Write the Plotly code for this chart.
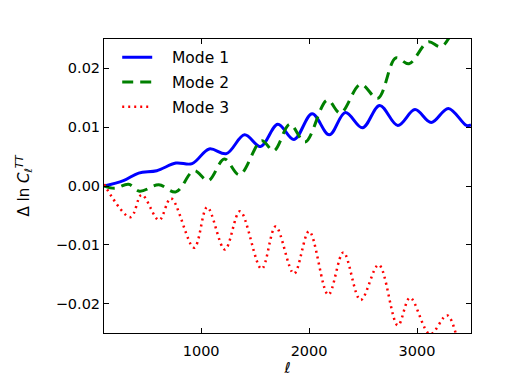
import plotly.graph_objects as go

# values (multipole ell, delta ln C_ell^TT)
mode1_ell = [100, 280, 421, 589, 766, 916, 1075, 1234, 1402, 1551, 1710, 1860, 2028, 2187,
             2336, 2495, 2654, 2822, 2981, 3131, 3290, 3458, 3500]
mode1_val = [0.0, 0.0009, 0.0022, 0.0026, 0.0039, 0.0038, 0.0063, 0.0055, 0.0087, 0.0067,
             0.0105, 0.0079, 0.0123, 0.0087, 0.0125, 0.0099, 0.0137, 0.0103, 0.0130, 0.0108,
             0.0132, 0.0103, 0.0104]

mode2_ell = [100, 200, 327, 430, 607, 766, 935, 1065, 1215, 1355, 1560, 1673, 1822, 1963,
             2168, 2290, 2477, 2636, 2804, 2925, 3103, 3224, 3420, 3500]
mode2_val = [0.0, -0.0004, 0.0003, -0.0009, 0.0002, -0.0010, 0.0026, 0.0009, 0.0046, 0.0019,
             0.0077, 0.0060, 0.0105, 0.0075, 0.0146, 0.0124, 0.0173, 0.0149, 0.0218, 0.0208,
             0.0245, 0.0237, 0.0285, 0.0280]

mode3_ell = [100, 346, 449, 610, 720, 935, 1056, 1220, 1360, 1560, 1690, 1860, 2000, 2178,
             2318, 2477, 2645, 2822, 2935, 3121, 3280, 3440, 3500]
mode3_val = [0.0003, -0.0053, -0.0015, -0.0058, -0.0021, -0.0105, -0.0036, -0.0108, -0.0043,
             -0.0141, -0.0069, -0.0149, -0.0077, -0.0185, -0.0113, -0.0194, -0.0134, -0.0237,
             -0.0190, -0.0252, -0.0220, -0.0290, -0.0280]

modes = [
    ('Mode 1', mode1_ell, mode1_val, '#0000ff', 'solid', 3),
    ('Mode 2', mode2_ell, mode2_val, '#008000', '11px,7px', 3),
    ('Mode 3', mode3_ell, mode3_val, '#ff0000', '2px,4px', 2.5),
]

fig = go.Figure()

for name, ell, val, color, dash, width in modes:
    fig.add_trace(go.Scatter(
        x=ell,
        y=val,
        mode='lines',
        line=dict(color=color, dash=dash, width=width, shape='spline', smoothing=1.0),
        name='\u00a0\u00a0\u00a0' + name,
        legendgroup=name,
    ))

axis_style = dict(
    showgrid=False,
    zeroline=False,
    showline=True,
    linecolor='black',
    linewidth=1,
    mirror='ticks',
    ticks='inside',
    ticklen=5,
    tickcolor='black',
    tickfont=dict(size=14.5, color='black'),
)

# the page body has an 8px margin, so the figure is a bit smaller than the window
fig.update_layout(
    width=515,
    height=384,
    margin=dict(l=96, r=52, t=31, b=59),
    paper_bgcolor='white',
    plot_bgcolor='white',
    font=dict(family='DejaVu Sans', color='black'),
    showlegend=True,
    legend=dict(
        x=0.036, y=0.994, xanchor='left', yanchor='top',
        bgcolor='rgba(0,0,0,0)', borderwidth=0,
        font=dict(size=15.5),
        tracegroupgap=1.5,
    ),
    xaxis=dict(
        range=[100, 3500],
        tickvals=[1000, 2000, 3000],
        ticklabelstandoff=5,
        title=dict(text='<i>ℓ</i>', font=dict(size=15), standoff=4),
        **axis_style,
    ),
    yaxis=dict(
        range=[-0.025, 0.025],
        tickvals=[-0.02, -0.01, 0.0, 0.01, 0.02],
        tickformat='.2f',
        title=dict(text='Δ ln <i>C</i><sub><i>ℓ</i></sub><sup><i>TT</i></sup>',
                   font=dict(size=15), standoff=22),
        **axis_style,
    ),
)

fig.write_html("out.html")
